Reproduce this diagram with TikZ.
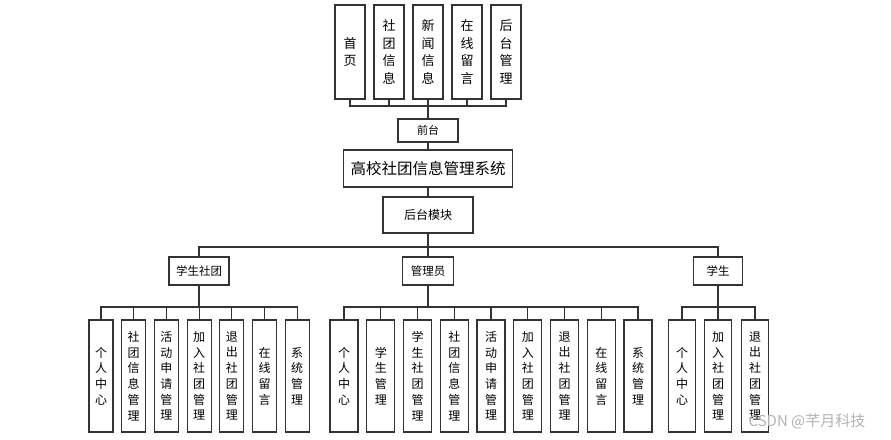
\documentclass[tikz,border=0pt]{standalone}
\usepackage{fontspec}
\setmainfont{Noto Sans CJK SC}
\begin{document}
\begin{tikzpicture}[x=1pt,y=-1pt,
  box/.style={draw=black!80,line width=1.2pt,fill=white,inner sep=0pt,align=center},
  topbox/.style={box,minimum width=30pt,minimum height=94pt,font=\fontsize{13}{17.7}\selectfont},
  leafA/.style={box,minimum width=24pt,minimum height=112pt,font=\fontsize{12}{15.7}\selectfont},
  leafB/.style={box,minimum width=28pt,minimum height=112pt,font=\fontsize{12}{15.7}\selectfont},
  leafC/.style={box,minimum width=27pt,minimum height=112pt,font=\fontsize{12}{15.7}\selectfont},
  grp/.style={box,minimum height=28pt,font=\fontsize{11.5}{14}\selectfont},
  wire/.style={draw=black!80,line width=1.1pt}]
\useasboundingbox (0,0) rectangle (891,439);

% top row
\node[topbox] (t1) at (350,52) {首\\页};
\node[topbox] (t2) at (389,52) {社\\团\\信\\息};
\node[topbox] (t3) at (428,52) {新\\闻\\信\\息};
\node[topbox] (t4) at (467,52) {在\\线\\留\\言};
\node[topbox] (t5) at (506,52) {后\\台\\管\\理};

\node[box,minimum width=60pt,minimum height=23pt,font=\fontsize{11}{13}\selectfont] (qt) at (428,130.5) {前台};
\node[box,minimum width=169pt,minimum height=37pt,font=\fontsize{15.5}{18}\selectfont] (sys) at (428,168.5) {高校社团信息管理系统};
\node[box,minimum width=90pt,minimum height=36pt,font=\fontsize{12}{14}\selectfont] (ht) at (428,215) {后台模块};

\node[grp,minimum width=60pt] (g1) at (199,271) {学生社团};
\node[grp,minimum width=51pt] (g2) at (428,271) {管理员};
\node[grp,minimum width=49pt] (g3) at (718,271) {学生};

% group 1 leaves
\node[leafA] (a1) at (101,376) {个\\人\\中\\心};
\node[leafA] (a2) at (133.7,376) {社\\团\\信\\息\\管\\理};
\node[leafA] (a3) at (166.4,376) {活\\动\\申\\请\\管\\理};
\node[leafA] (a4) at (199.1,376) {加\\入\\社\\团\\管\\理};
\node[leafA] (a5) at (231.8,376) {退\\出\\社\\团\\管\\理};
\node[leafA] (a6) at (264.5,376) {在\\线\\留\\言};
\node[leafA] (a7) at (297.2,376) {系\\统\\管\\理};

% group 2 leaves
\node[leafB] (b1) at (344,376) {个\\人\\中\\心};
\node[leafB] (b2) at (380.75,376) {学\\生\\管\\理};
\node[leafB] (b3) at (417.5,376) {学\\生\\社\\团\\管\\理};
\node[leafB] (b4) at (454.25,376) {社\\团\\信\\息\\管\\理};
\node[leafB] (b5) at (491,376) {活\\动\\申\\请\\管\\理};
\node[leafB] (b6) at (527.75,376) {加\\入\\社\\团\\管\\理};
\node[leafB] (b7) at (564.5,376) {退\\出\\社\\团\\管\\理};
\node[leafB] (b8) at (601.25,376) {在\\线\\留\\言};
\node[leafB] (b9) at (638,376) {系\\统\\管\\理};

% group 3 leaves
\node[leafC] (c1) at (682,376) {个\\人\\中\\心};
\node[leafC] (c2) at (718,376) {加\\入\\社\\团\\管\\理};
\node[leafC] (c3) at (755,376) {退\\出\\社\\团\\管\\理};

% bus coordinates
\coordinate (busT) at (428,106);
\coordinate (busM) at (428,247);
\coordinate (bus1) at (199,307);
\coordinate (bus2) at (428,307);
\coordinate (bus3) at (718,307);

% connectors
\draw[wire] (t1.south) |- (busT) -| (t5.south);
\foreach \n in {t2,t4} \draw[wire] (\n.south) -- (\n.south |- busT);
\draw[wire] (t3.south) -- (qt.north);
\draw[wire] (qt.south) -- (sys.north);
\draw[wire] (sys.south) -- (ht.north);
\draw[wire] (ht.south) -- (busM);
\draw[wire] (g1.north) |- (busM) -| (g3.north);
\draw[wire] (busM) -- (g2.north);

\draw[wire] (g1.south) -- (bus1);
\draw[wire] (a1.north) |- (bus1) -| (a7.north);
\foreach \n in {a2,a3,a4,a5,a6} \draw[wire] (\n.north) -- (\n.north |- bus1);

\draw[wire] (g2.south) -- (bus2);
\draw[wire] (b1.north) |- (bus2) -| (b9.north);
\foreach \n in {b2,b3,b4,b5,b6,b7,b8} \draw[wire] (\n.north) -- (\n.north |- bus2);

\draw[wire] (g3.south) -- (bus3);
\draw[wire] (c1.north) |- (bus3) -| (c3.north);
\draw[wire] (c2.north) -- (c2.north |- bus3);

\node[text=black!30,font=\fontsize{15}{18}\selectfont,inner sep=0pt] (wm) at (807,421) {CSDN @芊月科技};
\end{tikzpicture}
\end{document}
